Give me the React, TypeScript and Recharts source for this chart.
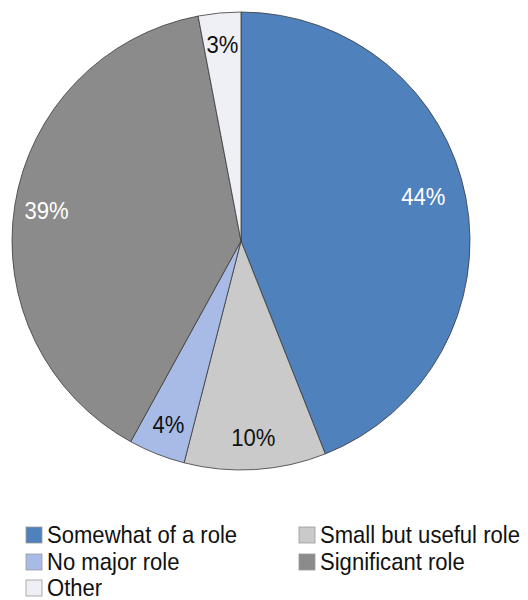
import React from 'react';
import { PieChart, Pie, Cell, Legend } from 'recharts';

const categories = ['Somewhat of a role', 'Small but useful role', 'No major role', 'Significant role', 'Other'];
const values = [44, 10, 4, 39, 3];
const labels = ['44%', '10%', '4%', '39%', '3%'];
const colors = ['#4F81BD', '#CACACA', '#A8BBE6', '#8B8B8B', '#EEF0F6'];
const labelColors = ['#FFFFFF', '#111111', '#111111', '#FFFFFF', '#111111'];
const legendOrder = [0, 1, 2, 3, 4];

const data = categories.map((name, i) => ({ name, value: values[i] }));

const FONT = "'Liberation Sans', Arial, sans-serif";
const FS = 24;
const SX = 0.92;
const RAD = Math.PI / 180;
const labelRadiusFactor: Record<number, number> = { 0: 0.82 };
const labelAngleShift: Record<number, number> = { 0: 3 };

const renderLabel = (props: any) => {
  const { cx, cy, midAngle, outerRadius, index } = props;
  const f = labelRadiusFactor[index] ?? 0.86;
  const a = midAngle + (labelAngleShift[index] ?? 0);
  const r = outerRadius * f;
  const x = cx + r * Math.cos(-a * RAD);
  const y = cy + r * Math.sin(-a * RAD);
  return (
    <text
      transform={`translate(${x},${y + 8.5}) scale(${SX},1)`}
      textAnchor="middle"
      fill={labelColors[index]}
      fontSize={FS}
      fontFamily={FONT}
    >
      {labels[index]}
    </text>
  );
};

const renderLegend = () => {
  const colX = [18, 291];
  const rowY = [35, 62, 88];
  return (
    <svg width={520} height={92} style={{ display: 'block' }}>
      {legendOrder.map((idx, k) => {
        const col = k % 2;
        const row = Math.floor(k / 2);
        const x = colX[col];
        const y = rowY[row];
        return (
          <g key={categories[idx]}>
            <rect x={x} y={y - 16} width={16} height={16} fill={colors[idx]} stroke="#9a9a9a" strokeWidth={0.8} />
            <text
              transform={`translate(${x + 21},${y}) scale(${SX},1)`}
              fontSize={FS}
              fontFamily={FONT}
              fill="#111111"
            >
              {categories[idx]}
            </text>
          </g>
        );
      })}
    </svg>
  );
};

export default function App() {
  return (
    <PieChart width={520} height={592} margin={{ top: 0, right: 0, bottom: 0, left: 0 }}>
      <Pie
        data={data}
        dataKey="value"
        nameKey="name"
        cx={233}
        cy={233}
        outerRadius={229}
        startAngle={90}
        endAngle={-270}
        stroke="#3a3a3a"
        strokeWidth={0.8}
        label={renderLabel}
        labelLine={false}
        isAnimationActive={false}
      >
        {data.map((d, i) => (
          <Cell key={d.name} fill={colors[i]} />
        ))}
      </Pie>
      <Legend
        content={renderLegend}
        wrapperStyle={{ position: 'absolute', left: 0, top: 500, width: 520, height: 92 }}
      />
    </PieChart>
  );
}
